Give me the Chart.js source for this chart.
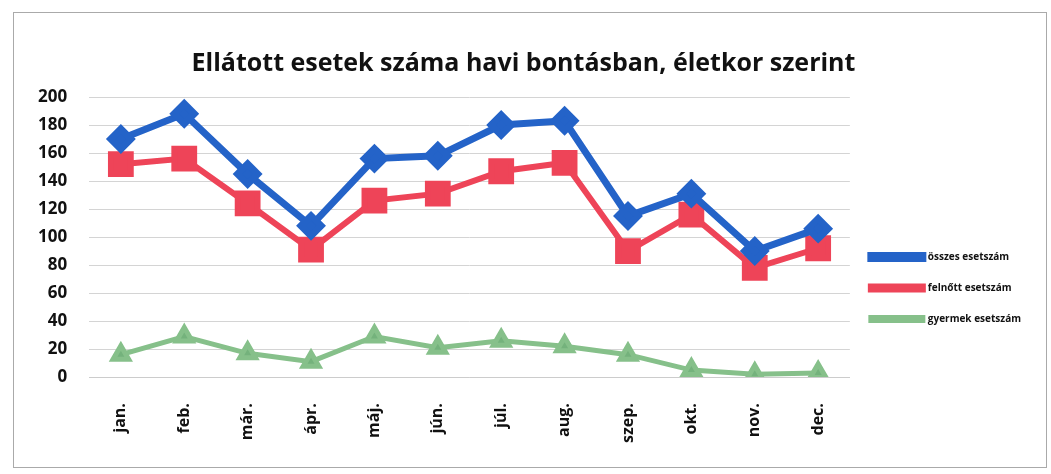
<!DOCTYPE html>
<html>
<head>
<meta charset="utf-8">
<script src="https://cdn.jsdelivr.net/npm/chart.js@4"></script>
<style>
  html, body { margin: 0; padding: 0; background: #fff; }
  #wrap { width: 1051px; height: 474px; position: relative; }
  #frame { position: absolute; left: 13px; top: 12px; width: 1032px; height: 454px;
           border: 1px solid #aaa; pointer-events: none; }
</style>
</head>
<body>
<div id="wrap"><canvas id="chart1"></canvas><div id="frame"></div></div>
<script>
const months = ['jan.', 'feb.', 'már.', 'ápr.', 'máj.', 'jún.', 'júl.', 'aug.', 'szep.', 'okt.', 'nov.', 'dec.'];
const osszesData = [170, 188, 145, 108, 156, 158, 180, 183, 115, 131, 90, 106];
const felnottData = [152, 156, 124, 91, 126, 131, 147, 153, 90, 116, 78, 92];
const gyermekData = [16, 29, 17, 11, 29, 21, 26, 22, 16, 5, 2, 3];
const seriesNames = ['összes esetszám', 'felnőtt esetszám', 'gyermek esetszám'];

const fontName = "'Open Sans', 'Noto Sans', sans-serif";

var ctx = document.getElementById('chart1').getContext('2d');
var myChart = new Chart(ctx, {
  type: 'line',
  data: {
    labels: months,
    datasets: [
      {
        label: seriesNames[0],
        data: osszesData,
        borderColor: '#2463c8',
        backgroundColor: '#2463c8',
        borderWidth: 7,
        pointStyle: 'rectRot',
        pointRadius: 10,
        tension: 0,
      },
      {
        label: seriesNames[1],
        data: felnottData,
        borderColor: '#ee4458',
        backgroundColor: '#ee4458',
        borderWidth: 6,
        pointStyle: 'rect',
        pointRadius: 14,
        tension: 0,
      },
      {
        label: seriesNames[2],
        data: gyermekData,
        borderColor: '#86c08a',
        backgroundColor: '#74b27c',
        borderWidth: 5,
        pointStyle: 'triangle',
        pointRadius: 9,
        tension: 0,
      },
    ],
  },
  options: {
    responsive: true,
    maintainAspectRatio: false,
    animation: false,
    layout: { padding: { left: 16, right: 20, top: 49, bottom: 13 } },
    plugins: {
      title: {
        display: true,
        text: 'Ellátott esetek száma havi bontásban, életkor szerint',
        color: '#111',
        font: { family: fontName, size: 25, weight: 'bold' },
        padding: { top: 0, bottom: 18 },
      },
      legend: {
        position: 'right',
        // blank legend title only pushes the items lower, as in the original
        title: { display: true, text: ' ', padding: { top: 54, bottom: 0 }, font: { size: 10 } },
        labels: {
          color: '#111',
          boxWidth: 52,
          boxHeight: 3,
          padding: 21,
          font: { family: fontName, size: 10, weight: 'bold' },
        },
      },
      tooltip: { enabled: false },
    },
    scales: {
      x: {
        offset: true,
        grid: { display: false },
        border: { color: '#ccc' },
        ticks: {
          color: '#111',
          maxRotation: 90,
          minRotation: 90,
          padding: 18,
          font: { family: fontName, size: 16, weight: 'bold' },
        },
      },
      y: {
        min: 0,
        max: 200,
        grid: { color: '#d4d4d4', drawTicks: false },
        border: { display: false },
        ticks: {
          stepSize: 20,
          color: '#111',
          padding: 22,
          font: { family: fontName, size: 17, weight: 'bold' },
        },
      },
    },
  },
});
</script>
</body>
</html>
